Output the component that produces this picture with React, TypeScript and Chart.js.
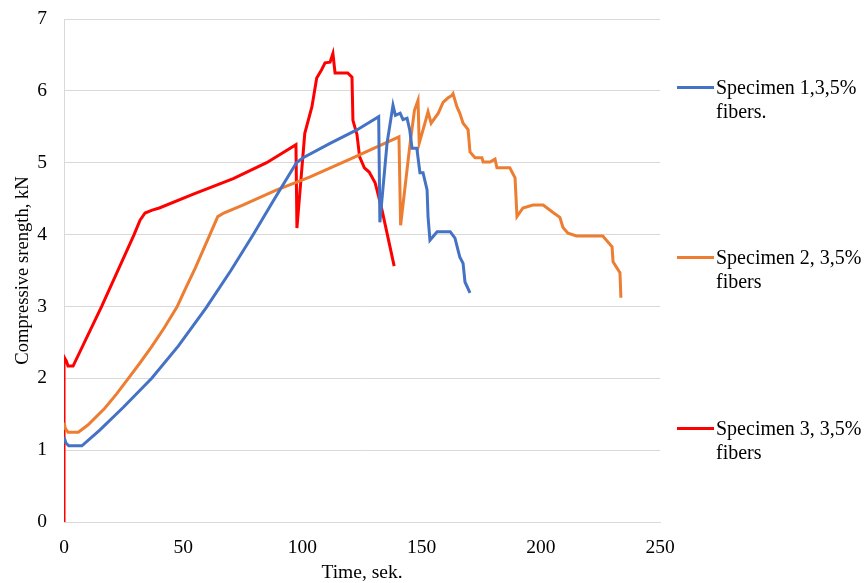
import React, { useEffect, useRef } from "react";
import { Chart, registerables } from "chart.js";

Chart.register(...registerables);

// Specimen 1, 3,5% fibers
const s1X = [0, 0.8, 2, 7.5, 15, 25, 36.8, 48, 59.6, 70, 79.4, 88, 97.5, 100.3, 111.6, 123, 132, 132.5, 135.5, 138, 139, 141, 142.2, 143.9, 145, 146, 148, 149.3, 150.6, 152.3, 152.7, 153.5, 156.5, 162, 164, 166, 167.4, 168.2, 170.3];
const s1Y = [1.18, 1.1, 1.06, 1.06, 1.28, 1.6, 2.0, 2.45, 2.98, 3.5, 4.0, 4.48, 5.0, 5.07, 5.27, 5.46, 5.64, 4.17, 5.27, 5.8, 5.66, 5.69, 5.6, 5.62, 5.46, 5.2, 5.2, 4.86, 4.86, 4.62, 4.25, 3.92, 4.04, 4.04, 3.95, 3.69, 3.6, 3.34, 3.19];

// Specimen 2, 3,5% fibers
const s2X = [0, 0.6, 1.7, 6, 10, 17, 22, 27, 32, 37, 42, 47.5, 51, 55, 61.2, 64.5, 67, 75, 89, 103, 120, 140.5, 141.2, 145, 147, 148.5, 149, 151.4, 152.7, 154, 157, 159, 161, 162.8, 163.2, 164.8, 166, 167.4, 169.5, 170.3, 172.4, 175.3, 175.8, 178.7, 180.8, 181.6, 187, 189.2, 190, 192.5, 196.7, 201, 205, 208, 209.3, 211.4, 215, 226, 229.9, 230.3, 233.2, 233.6];
const s2Y = [1.38, 1.3, 1.25, 1.25, 1.35, 1.58, 1.78, 2.0, 2.22, 2.45, 2.7, 3.0, 3.25, 3.53, 4.0, 4.25, 4.3, 4.41, 4.62, 4.8, 5.05, 5.36, 4.13, 5.22, 5.73, 5.87, 5.27, 5.55, 5.71, 5.55, 5.69, 5.84, 5.9, 5.94, 5.96, 5.78, 5.69, 5.55, 5.46, 5.15, 5.07, 5.07, 5.01, 5.01, 5.05, 4.93, 4.93, 4.79, 4.25, 4.37, 4.41, 4.41, 4.31, 4.24, 4.1, 4.02, 3.98, 3.98, 3.83, 3.62, 3.47, 3.12];

// Specimen 3, 3,5% fibers
const s3X = [0, 0, 1, 1.7, 3.8, 15.8, 29.4, 31.9, 34, 37, 40, 54, 71, 85, 97.3, 97.7, 101, 104, 106, 108, 109.5, 111.6, 112.8, 113.7, 119, 120.8, 121.2, 122.9, 124, 126, 128, 130.5, 131.3, 133.4, 135.5, 138.5];
const s3Y = [0, 2.3, 2.24, 2.17, 2.17, 3.0, 4.0, 4.2, 4.3, 4.34, 4.37, 4.56, 4.78, 5.0, 5.25, 4.09, 5.41, 5.78, 6.18, 6.29, 6.39, 6.4, 6.52, 6.25, 6.25, 6.19, 5.59, 5.39, 5.08, 4.93, 4.87, 4.72, 4.62, 4.34, 4.02, 3.56];

const seriesNames = ["Specimen 1,3,5%", "Specimen 2, 3,5%", "Specimen 3, 3,5%"];
const seriesSecondLine = ["fibers.", "fibers", "fibers"];
const seriesColors = ["#4472C4", "#ED7D31", "#FF0000"];

const xTitle = "Time, sek.";
const yTitle = "Compressive srength, kN";

const FONT = "'Liberation Serif', 'Times New Roman', serif";

const toPoints = (xs: number[], ys: number[]) => xs.map((x, i) => ({ x, y: ys[i] }));

export default function App() {
  const canvasRef = useRef<HTMLCanvasElement | null>(null);

  useEffect(() => {
    if (!canvasRef.current) return;
    const all = [toPoints(s1X, s1Y), toPoints(s2X, s2Y), toPoints(s3X, s3Y)];
    const chart = new Chart(canvasRef.current, {
      type: "line",
      data: {
        datasets: all.map((pts, i) => ({
          label: seriesNames[i],
          data: pts,
          borderColor: seriesColors[i],
          backgroundColor: seriesColors[i],
          borderWidth: 3,
          pointRadius: 0,
          tension: 0,
          fill: false,
        })),
      },
      options: {
        animation: false,
        responsive: false,
        maintainAspectRatio: false,
        devicePixelRatio: 1,
        layout: { padding: { top: 19, right: 204, left: 0, bottom: 0 } },
        plugins: { legend: { display: false }, tooltip: { enabled: false } },
        scales: {
          x: {
            type: "linear",
            min: 0,
            max: 250,
            ticks: { stepSize: 50, color: "#000", font: { family: FONT, size: 19.5 }, padding: 14 },
            grid: { display: false, drawTicks: false },
            border: { display: true, color: "#d9d9d9", width: 1 },
            title: { display: true, text: xTitle, color: "#000", font: { family: FONT, size: 19.5 }, padding: { top: 0, bottom: -2 } },
            afterFit: (s: any) => { s.height = 61; s.paddingLeft = 0; s.paddingRight = 0; },
          },
          y: {
            type: "linear",
            min: 0,
            max: 7,
            ticks: { stepSize: 1, color: "#000", font: { family: FONT, size: 19.5 }, padding: 17 },
            grid: { color: "#d9d9d9", drawTicks: false, lineWidth: 1 },
            border: { display: true, color: "#d9d9d9", width: 1 },
            title: { display: true, text: yTitle, color: "#000", font: { family: FONT, size: 18.6 }, padding: { top: 12, bottom: 0 } },
            afterFit: (s: any) => { s.width = 64; s.paddingTop = 0; s.paddingBottom = 0; },
          },
        },
      },
    } as any);
    return () => chart.destroy();
  }, []);

  const legendTops = [87, 257, 428];

  return (
    <div style={{ position: "absolute", left: 0, top: 0, width: 864, height: 583, background: "#fff" }}>
      <canvas ref={canvasRef} width={864} height={583} style={{ width: 864, height: 583, display: "block" }} />
      {seriesNames.map((name, i) => (
        <div key={name}>
          <div
            style={{
              position: "absolute",
              left: 677,
              top: legendTops[i] - 1.5,
              width: 37,
              height: 3,
              background: seriesColors[i],
            }}
          />
          <div
            style={{
              position: "absolute",
              left: 716,
              top: legendTops[i] - 12,
              fontFamily: FONT,
              fontSize: 20,
              lineHeight: "24px",
              color: "#000",
              whiteSpace: "nowrap",
            }}
          >
            {name}
            <br />
            {seriesSecondLine[i]}
          </div>
        </div>
      ))}
    </div>
  );
}
